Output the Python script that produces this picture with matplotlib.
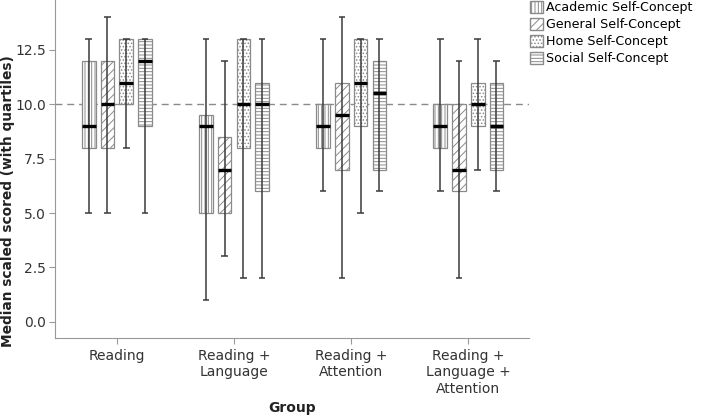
import matplotlib
matplotlib.use('Agg')
import matplotlib.pyplot as plt
from matplotlib.patches import Patch

groups = ['Reading', 'Reading +\nLanguage', 'Reading +\nAttention', 'Reading +\nLanguage +\nAttention']
series = ['Academic Self-Concept', 'General Self-Concept', 'Home Self-Concept', 'Social Self-Concept']

# lower whisker, q1, median, q3, upper whisker for each group
academic_lo = [5, 1, 6, 6]
academic_q1 = [8, 5, 8, 8]
academic_med = [9, 9, 9, 9]
academic_q3 = [12, 9.5, 10, 10]
academic_hi = [13, 13, 13, 13]

general_lo = [5, 3, 2, 2]
general_q1 = [8, 5, 7, 6]
general_med = [10, 7, 9.5, 7]
general_q3 = [12, 8.5, 11, 10]
general_hi = [14, 12, 14, 12]

home_lo = [8, 2, 5, 7]
home_q1 = [10, 8, 9, 9]
home_med = [11, 10, 11, 10]
home_q3 = [13, 13, 13, 11]
home_hi = [13, 13, 13, 13]

social_lo = [5, 2, 6, 6]
social_q1 = [9, 6, 7, 7]
social_med = [12, 10, 10.5, 9]
social_q3 = [13, 11, 12, 11]
social_hi = [13, 13, 13, 12]

reference = 10

stats = [
    (academic_lo, academic_q1, academic_med, academic_q3, academic_hi),
    (general_lo, general_q1, general_med, general_q3, general_hi),
    (home_lo, home_q1, home_med, home_q3, home_hi),
    (social_lo, social_q1, social_med, social_q3, social_hi),
]
hatches = ['|||||', '////', '.....', '-----']

plt.rcParams['font.family'] = ['DejaVu Sans']
plt.rcParams['hatch.linewidth'] = 0.7
plt.rcParams['hatch.color'] = '#7a7a7a'

fig = plt.figure(figsize=(7.02, 4.16), dpi=100)
ax = fig.add_axes([0.078, 0.1875, 0.676, 0.8125])

step = 0.16
width = 0.116
cap = 0.028

ax.axhline(reference, color='#8a8a8a', lw=1, ls=(0, (5, 3.5)), zorder=1)

for i, (lo, q1, med, q3, hi) in enumerate(stats):
    x = [g + (i - 1.5) * step for g in range(len(groups))]
    h = [b - a for a, b in zip(q1, q3)]
    ax.bar(x, h, width=width, bottom=q1, color='white', edgecolor='#8a8a8a',
           hatch=hatches[i], linewidth=0.9, zorder=2)
    ax.vlines(x, lo, hi, color='#3a3a3a', lw=1.1, zorder=3)
    ax.hlines(lo, [v - cap for v in x], [v + cap for v in x], color='#3a3a3a', lw=1.1, zorder=3)
    ax.hlines(hi, [v - cap for v in x], [v + cap for v in x], color='#3a3a3a', lw=1.1, zorder=3)
    ax.hlines(med, [v - width / 2 for v in x], [v + width / 2 for v in x], color='black', lw=2.4, zorder=4)

ax.set_xlim(-0.53, 3.52)
ax.set_ylim(-0.75, 14.8)
ax.set_yticks([0, 2.5, 5, 7.5, 10, 12.5])
ax.set_yticklabels(['0.0', '2.5', '5.0', '7.5', '10.0', '12.5'])
ax.set_xticks(range(len(groups)))
ax.set_xticklabels(groups)

for s in ['top', 'right']:
    ax.spines[s].set_visible(False)
for s in ['left', 'bottom']:
    ax.spines[s].set_color('#999999')
ax.tick_params(colors='#999999', labelcolor='#333333', labelsize=10, length=4.5)
ax.tick_params(axis='y', pad=2)

ax.set_ylabel('Median scaled scored (with quartiles)', fontsize=9.9, fontweight='bold', color='#222222')
ax.yaxis.set_label_coords(-0.084, 0.405)
ax.set_xlabel('Group', fontsize=10, fontweight='bold', color='#222222')
ax.xaxis.set_label_coords(0.5, -0.185)

handles = [Patch(facecolor='white', edgecolor='#8a8a8a', hatch=hatches[i], label=series[i])
           for i in range(len(series))]
fig.legend(handles=handles, loc='upper left', bbox_to_anchor=(0.753, 1.0), frameon=False,
           fontsize=9.1, handlelength=1.05, handleheight=1.05, handletextpad=0.2,
           labelspacing=0.3, borderaxespad=0, borderpad=0.1)

fig.savefig('out.png', dpi=100)
